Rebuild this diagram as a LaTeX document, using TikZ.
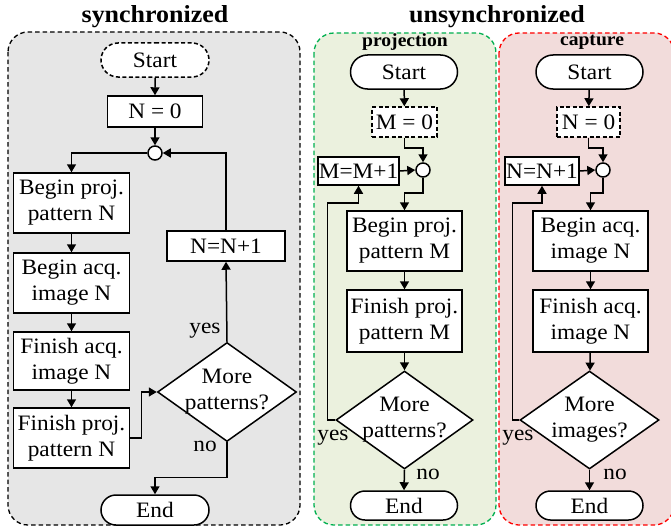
\documentclass[tikz,border=0pt]{standalone}
\usepackage{fontspec}
\setmainfont{Liberation Serif}[FakeStretch=1.06]
\usetikzlibrary{arrows.meta,shapes.misc,shapes.geometric,calc}

\definecolor{syncfill}{RGB}{230,230,230}
\definecolor{projfill}{RGB}{235,241,222}
\definecolor{capfill}{RGB}{242,220,219}
\definecolor{projline}{RGB}{0,176,80}
\definecolor{capline}{RGB}{255,0,0}

\tikzset{
  txt/.style={font=\fontsize{22}{26}\selectfont},
  panel/.style={line width=1.3pt, dash pattern=on 4.5pt off 3pt, rounded corners=20pt},
  proc/.style={txt, draw, fill=white, line width=1.5pt, align=center, inner sep=0pt},
  term/.style={txt, draw, fill=white, line width=1.5pt, rounded rectangle, inner sep=0pt},
  dashbox/.style={dash pattern=on 4pt off 2.5pt},
  junction/.style={draw, fill=white, circle, line width=1.5pt, minimum size=14pt, inner sep=0pt},
  decision/.style={draw, fill=white, diamond, line width=1.5pt, inner sep=0pt},
  arr/.style={line width=1.5pt, -{Triangle[length=8pt,width=9pt]}},
  lbl/.style={txt, inner sep=0pt},
  title/.style={font=\fontsize{24.5}{28}\selectfont\bfseries, inner sep=0pt},
  subtitle/.style={font=\fontsize{18.5}{22}\selectfont\bfseries, inner sep=0pt}
}

\begin{document}
\begin{tikzpicture}[x=1pt,y=-1pt]
\useasboundingbox (0,0) rectangle (671,527);

% panel backgrounds
\draw[panel, fill=syncfill, draw=black] (8,32) rectangle (300,525);
\draw[panel, fill=projfill, draw=projline] (314,33) rectangle (496,525);
\draw[panel, fill=capfill, draw=capline] (499,33) rectangle (674,525);

% titles
\node[title] (tsync) at (155,17) {synchronized};
\node[title] (tunsync) at (497,17) {unsynchronized};
\node[subtitle] (tproj) at (405,42) {projection};
\node[subtitle] (tcap) at (592,42) {capture};

% ---------------- synchronized ----------------
\node[term, dashbox, minimum width=108pt, minimum height=34pt] (s1) at (155,60) {Start};
\node[proc, minimum width=95pt, minimum height=31pt] (n0) at (155,111.5) {N = 0};
\node[junction] (c1) at (155,153) {};
\node[proc, minimum width=116pt, minimum height=60pt] (bp) at (71.5,203) {Begin proj.\\pattern N};
\node[proc, minimum width=116pt, minimum height=60pt] (ba) at (71.5,283) {Begin acq.\\image N};
\node[proc, minimum width=116pt, minimum height=58pt] (fa) at (71.5,361) {Finish acq.\\image N};
\node[proc, minimum width=116pt, minimum height=60pt] (fp) at (71.5,438) {Finish proj.\\pattern N};
\node[decision, minimum width=139pt, minimum height=99pt] (d1) at (227,392) {};
\node[txt, align=center, inner sep=0pt] (d1t) at (d1) {More\\patterns?};
\node[proc, minimum width=118pt, minimum height=30pt] (inc1) at (226,246) {N=N+1};
\node[term, minimum width=108pt, minimum height=30pt] (e1) at (155,510) {End};
\node[lbl] (y1) at (205,331) {yes};
\node[lbl] (no1) at (205,446) {no};

\draw[arr] (s1) -- (n0);
\draw[arr] (n0) -- (c1);
\draw[arr] (c1.west) -| (bp.north);
\draw[arr] (bp) -- (ba);
\draw[arr] (ba) -- (fa);
\draw[arr] (fa) -- (fp);
\draw[arr] (fp.east) -- ++(11,0) |- (d1.west);
\draw[arr] (d1.north) -- (inc1.south);
\draw[arr] (inc1.north) |- (c1.east);
\draw[arr] (d1.south) -- ++(0,35) -| (e1.north);

% ---------------- projection ----------------
\node[term, minimum width=107pt, minimum height=34pt] (s2) at (404,72) {Start};
\node[proc, dashbox, minimum width=65pt, minimum height=30pt] (m0) at (404.5,122) {M = 0};
\node[junction] (c2) at (423,170) {};
\node[proc, minimum width=81pt, minimum height=28pt] (m1) at (358.5,171) {M=M+1};
\node[proc, minimum width=115pt, minimum height=60pt] (bp2) at (404.5,241) {Begin proj.\\pattern M};
\node[proc, minimum width=115pt, minimum height=62pt] (fp2) at (404.5,321) {Finish proj.\\pattern M};
\node[decision, minimum width=137pt, minimum height=98pt] (d2) at (404.5,420) {};
\node[txt, align=center, inner sep=0pt] (d2t) at (d2) {More\\patterns?};
\node[term, minimum width=107pt, minimum height=29pt] (e2) at (404,505.5) {End};
\node[lbl] (y2) at (333,438) {yes};
\node[lbl] (no2) at (428,474) {no};

\draw[arr] (s2) -- (m0);
\draw[arr] (m0.south) -- ++(0,10) -| (c2.north);
\draw[arr] (m1.east) -- (c2.west);
\draw[arr] (c2.south) -- ++(0,15) -| (bp2.north);
\draw[arr] (bp2) -- (fp2);
\draw[arr] (fp2) -- (d2);
\draw[arr] (d2.west) -- ++(-8,0) |- ($(m1.south)+(0,17)$) -- (m1.south);
\draw[arr] (d2.south) -- (e2.north);

% ---------------- capture ----------------
\node[term, minimum width=107pt, minimum height=34pt] (s3) at (589.5,72) {Start};
\node[proc, dashbox, minimum width=63pt, minimum height=30pt] (n0b) at (588.5,122) {N = 0};
\node[junction] (c3) at (603,170) {};
\node[proc, minimum width=74pt, minimum height=28pt] (inc3) at (542,171) {N=N+1};
\node[proc, minimum width=115pt, minimum height=60pt] (ba3) at (590.5,241) {Begin acq.\\image N};
\node[proc, minimum width=115pt, minimum height=62pt] (fa3) at (590.5,321) {Finish acq.\\image N};
\node[decision, minimum width=139pt, minimum height=98pt] (d3) at (589.5,420) {};
\node[txt, align=center, inner sep=0pt] (d3t) at (d3) {More\\images?};
\node[term, minimum width=107pt, minimum height=29pt] (e3) at (589.5,505.5) {End};
\node[lbl] (y3) at (518,438) {yes};
\node[lbl] (no3) at (615,474) {no};

\draw[arr] (s3) -- (n0b);
\draw[arr] (n0b.south) -- ++(0,10) -| (c3.north);
\draw[arr] (inc3.east) -- (c3.west);
\draw[arr] (c3.south) -- ++(0,15) -| (ba3.north);
\draw[arr] (ba3) -- (fa3);
\draw[arr] (fa3) -- (d3);
\draw[arr] (d3.west) -- ++(-7,0) |- ($(inc3.south)+(0,17)$) -- (inc3.south);
\draw[arr] (d3.south) -- (e3.north);
\end{tikzpicture}
\end{document}
